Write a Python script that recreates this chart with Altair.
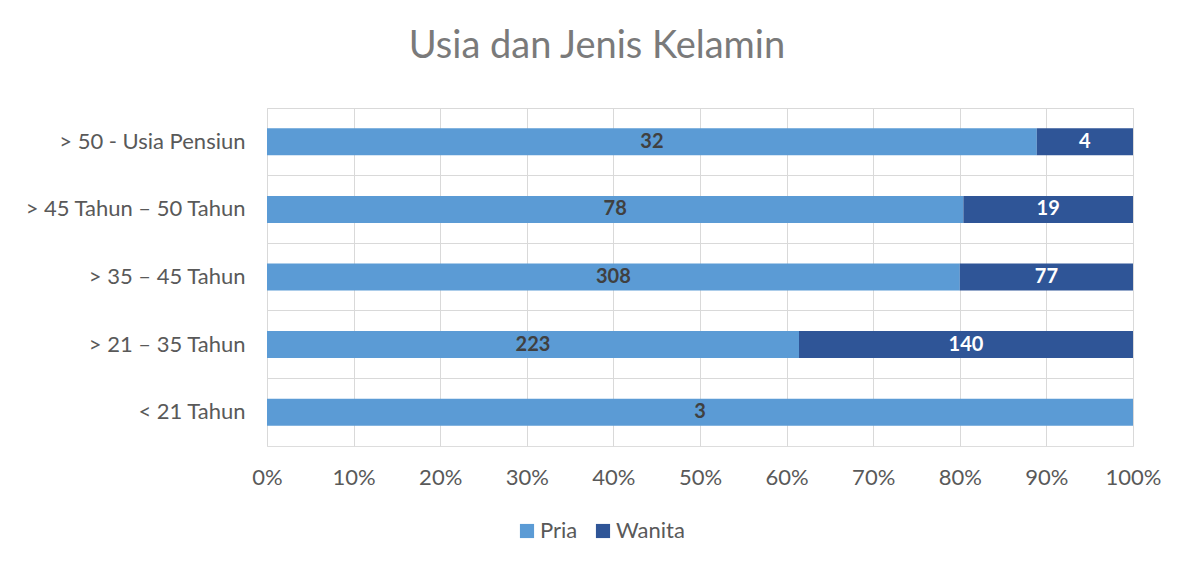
import altair as alt
import pandas as pd

categories = ["> 50 -  Usia Pensiun", "> 45 Tahun – 50 Tahun", "> 35 – 45 Tahun",
              "> 21 – 35 Tahun", "< 21 Tahun"]
pria = [32, 78, 308, 223, 3]
wanita = [4, 19, 77, 140, 0]
series = ["Pria", "Wanita"]
colors = ["#5b9bd5", "#2f5597"]
x_ticks = [i / 10 for i in range(11)]

rows = []
for c, p, w in zip(categories, pria, wanita):
    rows.append({"cat": c, "gender": "Pria", "value": p, "ord": 0})
    rows.append({"cat": c, "gender": "Wanita", "value": w, "ord": 1})
df = pd.DataFrame(rows)

FONT = "Lato"
GRAY = "#595959"

yscale = alt.Scale(domain=categories, paddingInner=0.6, paddingOuter=0.3)
xscale = alt.Scale(domain=[0, 1], nice=False)

base = alt.Chart(df).transform_stack(
    stack="value", groupby=["cat"], as_=["v0", "v1"], offset="normalize",
    sort=[alt.SortField("ord", order="ascending")]
).transform_calculate(mid="(datum.v0 + datum.v1) / 2")

bars = base.mark_bar().encode(
    y=alt.Y("cat:N", scale=yscale, sort=categories, title=None,
            axis=alt.Axis(grid=False, ticks=False, domain=False, labelFont=FONT,
                          labelFontSize=22, labelColor=GRAY, labelPadding=22,
                          labelLimit=400)),
    x=alt.X("v0:Q", scale=xscale, title=None,
            axis=alt.Axis(values=x_ticks, format="%", grid=True, gridColor="#d9d9d9",
                          ticks=False, domain=False, labelFont=FONT, labelFontSize=22,
                          labelColor=GRAY, labelPadding=21, labelFlush=False)),
    x2="v1:Q",
    color=alt.Color("gender:N", scale=alt.Scale(domain=series, range=colors),
                    legend=alt.Legend(title=None, orient="none", direction="horizontal",
                                      legendX=249, legendY=412, symbolType="square",
                                      symbolSize=200, symbolStrokeWidth=0,
                                      labelFont=FONT, labelFontSize=22, labelColor=GRAY,
                                      columnPadding=14, labelOffset=2)),
)

gridlayer = base.mark_bar(opacity=0).encode(
    y=alt.Y("cat:N", scale=yscale, sort=categories, title=None,
            axis=alt.Axis(grid=True, gridColor="#d9d9d9", labels=False, ticks=False,
                          domain=False, bandPosition=-0.75, orient="right")),
    x=alt.X("v0:Q", scale=xscale),
    x2="v1:Q",
)

labels = base.transform_filter("datum.value > 0").mark_text(
    font=FONT, fontSize=20, fontWeight="bold"
).encode(
    y=alt.Y("cat:N", scale=yscale, sort=categories, axis=None),
    x=alt.X("mid:Q", scale=xscale),
    text=alt.Text("value:Q"),
    color=alt.Color("gender:N", scale=alt.Scale(domain=series, range=["#404040", "#ffffff"]),
                    legend=None),
)

chart = alt.layer(gridlayer, bars, labels).resolve_axis(y="independent").resolve_scale(
    color="independent"
).properties(
    width=866, height=338,
    title=alt.TitleParams("Usia dan Jenis Kelamin", font=FONT, fontSize=38,
                          fontWeight="normal", color="#7a7a7a", offset=42, dx=-103),
    autosize=alt.AutoSizeParams(type="none"),
    padding={"left": 259, "top": 100, "right": 40, "bottom": 100},
).configure_view(fill="#f2f2f2", stroke="#d9d9d9").configure(background="white")

chart.save("out.html", embed_options={"renderer": "svg", "actions": False})
